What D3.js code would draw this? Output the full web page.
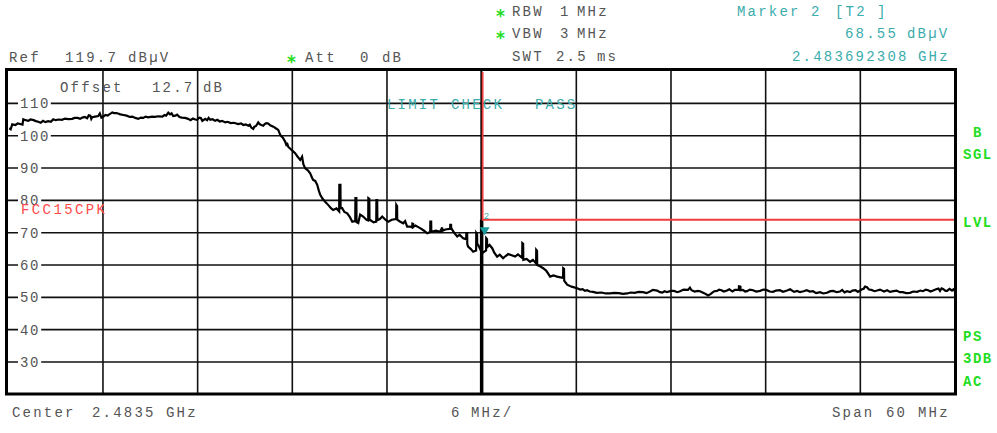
<!DOCTYPE html>
<html><head><meta charset="utf-8">
<script src="https://cdn.jsdelivr.net/npm/d3@7"></script>
<style>
body{margin:0;background:#fff}
svg{display:block}
text{font-family:"Liberation Mono","DejaVu Sans Mono",monospace;font-size:14px;letter-spacing:2.2px}
</style>
</head><body>
<svg id="c" width="997" height="433"></svg>
<script>
// ---- data ----
const spanOffsetsMHz = [0, 6, 12, 18, 24, 30, 36, 42, 48, 54, 60]; // grid (6 MHz/div), start 2.4535 GHz
const yTicks = [110, 100, 90, 80, 70, 60, 50, 40, 30];
const refLevel = 119.7, bottomLevel = 19.7;
const limitOffsetMHz = 30, limitLevel = 74;          // FCC15CPK
const markerOffsetMHz = 30.192308, markerLevel = 68.55;

// trace: [offset from start (MHz), level (dBµV)]
const tracePlateau = [
[0.06,102.3],[0.15,102.0],[0.25,103.5],[0.45,103.3],[0.60,103.8],[0.76,103.6],[0.90,103.4],[0.95,105.1],[1.10,104.8],[1.27,104.6],
[1.40,105.0],[1.60,104.8],[1.75,104.5],[1.90,104.3],[2.05,104.0],[2.20,104.6],[2.35,104.2],[2.53,104.5],[2.70,104.3],[2.85,105.1],
[3.00,104.8],[3.20,105.0],[3.40,104.9],[3.60,105.3],[3.80,105.1],[4.05,105.2],[4.20,105.5],[4.40,105.5],[4.55,105.2],[4.69,105.6],
[4.85,105.8],[5.00,105.4],[5.10,106.3],[5.20,106.2],[5.26,105.2],[5.32,105.7],[5.50,105.9],[5.70,106.1],[5.80,106.9],[5.90,105.6],
[6.05,106.0],[6.15,106.4],[6.30,106.2],[6.40,106.6],[6.50,106.9],[6.59,107.2],[6.70,107.0],[6.85,107.0],[7.00,106.8],[7.10,106.6],
[7.30,106.4],[7.50,106.2],[7.70,105.8],[7.86,105.9],[8.05,105.5],[8.24,105.2],[8.40,105.6],[8.55,105.5],[8.70,105.9],[8.87,105.7],
[9.10,105.9],[9.30,105.8],[9.50,106.0],[9.76,105.9],[9.90,106.4],[10.00,106.2],[10.14,107.1],[10.25,106.6],[10.35,106.9],[10.45,106.1],
[10.58,106.2],[10.70,106.5],[10.85,105.8],[11.00,105.6],[11.20,105.5],[11.40,105.2],[11.55,104.8],[11.70,105.3],[11.85,105.0],[11.97,104.9],
[12.10,105.6],[12.20,105.5],[12.30,104.6],[12.48,105.2],[12.60,104.8],[12.70,105.5],[12.80,104.9],[12.95,105.1],[13.11,104.6],[13.25,104.9],
[13.40,104.4],[13.55,104.6],[13.75,104.1],[13.90,104.3],[14.10,103.9],[14.30,104.0],[14.57,103.6],[14.75,103.8],[14.90,103.3],[15.05,103.5],
[15.21,103.1],[15.30,103.4],[15.40,102.5],[15.52,102.1],[15.60,102.8],[15.70,103.0],[15.84,104.1],[15.92,103.6],[16.00,103.4],[16.16,103.1],
[16.25,103.6],[16.35,103.9],[16.47,103.8],[16.60,103.2],[16.80,102.8],[16.95,102.3],[17.11,101.8]
];
const traceSlope = [
[17.24,100.2],[17.40,99.4],[17.55,98.1],[17.65,96.8],[17.66,97.8],[17.74,96.6],[17.95,95.6],[18.18,94.6],[18.35,93.4],[18.50,92.5],
[18.62,93.5],[18.70,91.2],[18.82,89.9],[19.00,89.2],[19.13,88.4],[19.25,87.0],[19.32,86.3],[19.45,86.0],[19.58,84.8],[19.68,83.0],
[19.77,81.7],[19.92,80.5],[20.08,79.6],[20.27,78.6],[20.45,77.6],[20.59,77.0],[20.80,77.5],[20.97,76.6],[20.98,84.8],[21.05,84.8],
[21.06,77.6],[21.16,77.6],[21.30,76.4],[21.48,76.0],[21.65,74.8],[21.80,73.4],[21.99,73.6],[22.00,80.7],[22.06,80.7],[22.07,73.3],
[22.18,73.0],[22.30,75.6],[22.49,75.0],[22.70,74.0],[22.81,73.8],[22.82,80.7],[22.88,80.5],[22.89,74.0],[22.94,73.9],[23.15,73.2],
[23.32,73.4],[23.33,80.1],[23.38,80.1],[23.39,73.9],[23.55,74.2],[23.70,75.0],[23.90,74.0],[24.08,73.4],[24.30,74.0],[24.58,74.2],
[24.59,78.6],[24.64,78.2],[24.65,74.0],[24.84,73.4],[25.03,72.9],[25.15,73.6],[25.28,71.9],[25.47,71.9],[25.60,71.6],[25.61,72.8],
[25.66,72.7],[25.67,71.8],[25.80,72.2],[26.10,71.4],[26.35,70.6],[26.55,69.8],[26.74,70.2],[26.75,73.4],[26.80,73.4],[26.81,70.3],
[27.10,70.6],[27.37,70.3],[27.50,71.6],[27.51,70.6],[27.70,71.0],[28.00,71.2],[28.01,72.4],[28.06,72.4],[28.07,71.4],[28.25,70.0],
[28.45,68.8],[28.60,69.4],[28.83,68.3],[29.02,68.0],[29.03,69.9],[29.08,69.9],[29.09,66.5],[29.14,65.7],[29.30,65.0],[29.46,64.1],
[29.65,64.5],[29.66,69.9],[29.71,69.5],[29.72,66.2],[29.78,66.2],[30.03,63.7],[30.28,64.5],[30.29,68.3],[30.34,68.0],[30.35,65.5],
[30.50,66.2],[30.67,65.2],[30.80,63.8],[30.98,62.6],[31.15,63.2],[31.36,62.1],[31.50,62.7],[31.68,63.4],[31.90,63.0],[32.12,62.6],
[32.30,63.3],[32.57,62.2],[32.58,66.8],[32.63,66.6],[32.64,61.6],[32.85,61.9],[33.07,61.0],[33.25,61.6],[33.45,60.5],[33.46,64.7],
[33.51,64.4],[33.52,60.0],[33.70,59.6],[33.90,59.0],[34.10,58.2],[34.34,56.4],[34.55,56.8],[34.78,56.4],[35.16,56.0],[35.17,59.0],
[35.22,58.8],[35.23,55.2],[35.42,53.9],[35.70,53.3],[36.05,52.8]
];
const traceFloor = [
[36.25,52.4],[36.40,52.5],[36.55,52.0],[36.68,52.2],[36.85,51.8],[37.06,51.7],[37.30,51.4],[37.60,51.5],[37.85,51.2],[38.14,51.2],
[38.40,51.4],[38.70,51.3],[38.95,51.1],[39.22,51.2],[39.45,51.5],[39.70,51.4],[39.95,51.7],[40.23,51.6],[40.45,51.3],[40.70,51.9],
[40.85,52.3],[41.12,52.1],[41.30,51.6],[41.45,51.5],[41.60,51.9],[41.75,51.6],[42.00,52.0],[42.20,52.0],[42.40,51.6],[42.58,51.9],
[42.80,52.4],[43.08,52.3],[43.20,53.0],[43.30,52.2],[43.50,51.8],[43.70,52.0],[43.84,51.9],[44.10,51.3],[44.25,50.9],[44.35,50.6],
[44.50,51.0],[44.60,51.4],[44.75,51.9],[44.92,52.0],[45.05,52.4],[45.20,52.2],[45.35,51.8],[45.55,52.1],[45.70,52.5],[45.90,51.8],
[46.05,52.3],[46.19,52.3],[46.30,52.3],[46.31,53.4],[46.40,53.3],[46.41,52.2],[46.55,52.3],[46.70,51.8],[46.82,51.9],[47.00,52.4],
[47.20,52.2],[47.40,51.8],[47.65,52.0],[47.85,52.4],[48.05,52.3],[48.25,51.8],[48.47,51.7],[48.65,52.1],[48.90,52.2],[49.10,51.7],
[49.36,52.1],[49.55,52.5],[49.80,51.7],[50.00,52.0],[50.18,51.6],[50.40,51.9],[50.60,52.2],[50.80,51.8],[51.00,51.9],[51.20,51.3],
[51.45,51.6],[51.65,51.2],[51.89,51.4],[52.10,51.9],[52.30,52.0],[52.50,51.6],[52.71,51.8],[52.85,52.3],[53.00,51.5],[53.15,51.9],
[53.35,51.6],[53.50,52.1],[53.70,52.2],[53.85,51.7],[53.98,52.1],[54.10,52.5],[54.20,52.6],[54.30,53.3],[54.42,53.1],[54.55,52.4],
[54.70,52.3],[54.90,51.9],[55.06,52.1],[55.25,52.4],[55.50,51.8],[55.70,52.2],[55.88,51.7],[56.10,51.9],[56.30,52.1],[56.50,51.6],
[56.70,51.6],[56.90,51.3],[57.15,51.4],[57.35,51.8],[57.60,51.7],[57.80,52.1],[57.97,51.9],[58.15,52.4],[58.30,52.2],[58.45,51.8],
[58.61,52.1],[58.80,52.5],[58.95,52.7],[59.05,52.0],[59.15,52.8],[59.24,52.6],[59.40,52.0],[59.50,52.0],[59.65,52.6],[59.81,52.1],
[59.90,52.5],[60.00,51.9]
];

// ---- colours ----
const GRAY = "#555", TEAL = "#3aacac", GREEN = "#22dd22", RED = "#ff4a4a";

const svg = d3.select("#c");
const x = d3.scaleLinear().domain([0, 60]).range([8.3, 955]);
const y = d3.scaleLinear().domain([bottomLevel, refLevel]).range([395.3, 72]);

function txt(px, py, s, color) {
  return svg.append("text").attr("x", px).attr("y", py).attr("fill", color).text(s);
}
function star(px, py) {
  return svg.append("text").attr("x", px).attr("y", py).attr("fill", GREEN)
    .style("font-family", "DejaVu Sans").style("font-weight", "bold").style("font-size", "17px")
    .style("letter-spacing", "0px").text("*");
}

// header texts
star(496, 22); txt(512, 16, "RBW", GRAY); txt(560, 16, "1", GRAY); txt(577, 16, "MHz", GRAY);
star(496, 44); txt(512, 38, "VBW", GRAY); txt(560, 38, "3", GRAY); txt(577, 38, "MHz", GRAY);
txt(512, 61, "SWT", GRAY); txt(556, 61, "2.5", GRAY); txt(597, 61, "ms", GRAY);
txt(737, 16, "Marker", TEAL); txt(811, 16, "2", TEAL); txt(835, 16, "[T2", TEAL); txt(877, 16, "]", TEAL);
txt(845, 38, "68.55", TEAL); txt(907, 38, "dBµV", TEAL);
txt(792, 61, "2.483692308", TEAL); txt(918, 61, "GHz", TEAL);
txt(9, 62, "Ref", GRAY); txt(65, 62, "119.7", GRAY); txt(128, 62, "dBµV", GRAY);
star(287, 68); txt(305, 62, "Att", GRAY); txt(360, 62, "0", GRAY); txt(382, 62, "dB", GRAY);

// footer
txt(12, 417, "Center", GRAY); txt(92, 417, "2.4835", GRAY); txt(166, 417, "GHz", GRAY);
txt(451, 417, "6", GRAY); txt(471, 417, "MHz/", GRAY);
txt(832, 417, "Span", GRAY); txt(886, 417, "60", GRAY); txt(918, 417, "MHz", GRAY);

// right side status labels
const side = [["B", 973, 137], ["SGL", 963, 159], ["LVL", 963, 227], ["PS", 963, 341], ["3DB", 963, 363], ["AC", 963, 386]];
side.forEach(d => txt(d[1], d[2], d[0], GREEN).style("font-weight", "bold").style("letter-spacing", "1.5px"));

// grid
const g = svg.append("g");
g.selectAll("line.v").data(spanOffsetsMHz.slice(1, -1)).join("line")
  .attr("x1", d => x(d)).attr("x2", d => x(d)).attr("y1", 70).attr("y2", 394)
  .attr("stroke", "#111").attr("stroke-width", 1.6);
g.selectAll("line.h").data(yTicks).join("line")
  .attr("x1", 7).attr("x2", 955).attr("y1", d => y(d)).attr("y2", d => y(d))
  .attr("stroke", "#111").attr("stroke-width", 1.6);

// y tick labels with white background
yTicks.forEach(v => {
  const s = String(v);
  const w = s.length * 9.6;
  g.append("rect").attr("x", 18).attr("y", y(v) - 6).attr("width", w + 4).attr("height", 12).attr("fill", "#fff");
  g.append("text").attr("x", 20).attr("y", y(v) + 5).attr("fill", GRAY).style("letter-spacing", "1.6px").text(s);
});

// overlay labels inside plot
txt(60, 92, "Offset", GRAY); txt(152, 92, "12.7", GRAY); txt(203, 92, "dB", GRAY);
txt(21, 214, "FCC15CPK", RED).style("letter-spacing", "2.4px");
txt(387, 109, "LIMIT", TEAL); txt(451, 109, "CHECK", TEAL); txt(535, 109, "PASS", TEAL);

// display line (black) at band edge
svg.append("line").attr("x1", x(limitOffsetMHz) - 0.5).attr("x2", x(limitOffsetMHz) - 0.5)
  .attr("y1", 70).attr("y2", 394).attr("stroke", "#000").attr("stroke-width", 1.5);
svg.append("line").attr("x1", x(limitOffsetMHz)).attr("x2", x(limitOffsetMHz))
  .attr("y1", y(limitLevel)).attr("y2", 394).attr("stroke", "#000").attr("stroke-width", 3.5);

// limit line FCC15CPK
const limitPts = [[limitOffsetMHz, refLevel], [limitOffsetMHz, limitLevel], [60, limitLevel]];
svg.append("path").attr("d", d3.line().x(d => x(d[0]) + (d[0] === limitOffsetMHz ? 1 : 0)).y(d => y(d[1]))(limitPts))
  .attr("fill", "none").attr("stroke", "#f03c3c").attr("stroke-width", 1.8);

// trace
const pts = tracePlateau.concat(traceSlope, traceFloor);
svg.append("path").attr("d", d3.line().x(d => x(d[0])).y(d => y(d[1]))(pts))
  .attr("fill", "none").attr("stroke", "#000").attr("stroke-width", 2.2).attr("stroke-linejoin", "miter");

// marker
const mx = x(markerOffsetMHz), my = y(markerLevel) - 2;
svg.append("path").attr("d", `M${mx - 5},${my - 8}L${mx + 5},${my - 8}L${mx},${my}Z`).attr("fill", "#1a9a9a");
svg.append("text").attr("x", mx - 1).attr("y", my - 16).attr("fill", TEAL)
  .style("font-size", "9px").style("letter-spacing", "0px").text("2");

// frame
svg.append("rect").attr("x", 6.5).attr("y", 69.5).attr("width", 949).attr("height", 324.5)
  .attr("fill", "none").attr("stroke", "#000").attr("stroke-width", 3);
</script>
</body></html>
